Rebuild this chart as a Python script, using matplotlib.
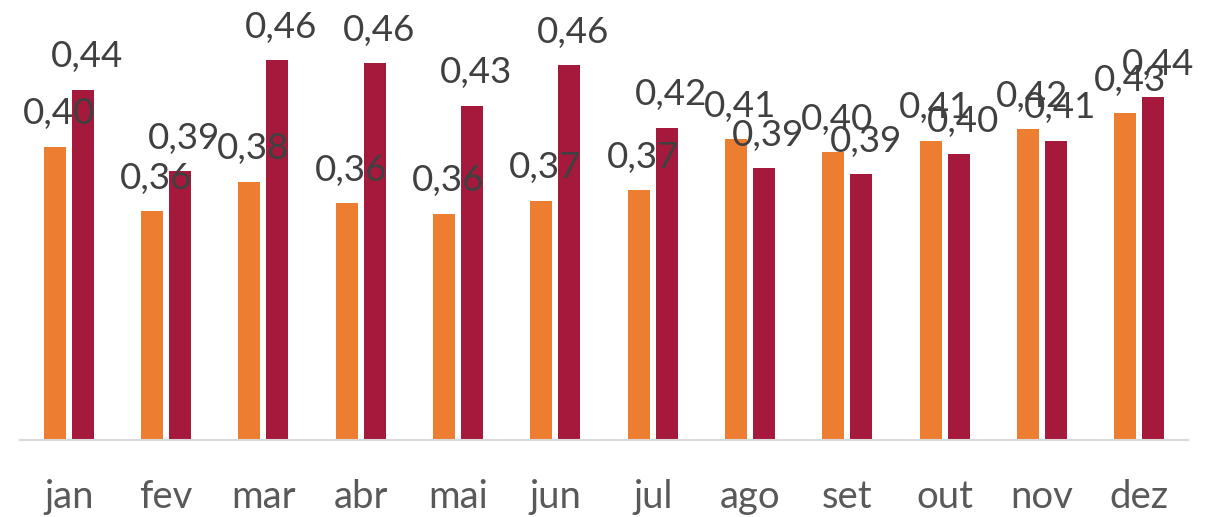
import matplotlib.pyplot as plt
import numpy as np

meses = ["jan", "fev", "mar", "abr", "mai", "jun", "jul", "ago", "set", "out", "nov", "dez"]
serie_a = [0.401, 0.357, 0.377, 0.362, 0.355, 0.364, 0.371, 0.406, 0.397, 0.405, 0.413, 0.424]
serie_b = [0.440, 0.384, 0.460, 0.458, 0.429, 0.457, 0.414, 0.386, 0.382, 0.396, 0.405, 0.435]
rotulos_a = ["0,40", "0,36", "0,38", "0,36", "0,36", "0,37", "0,37", "0,41", "0,40", "0,41", "0,42", "0,43"]
rotulos_b = ["0,44", "0,39", "0,46", "0,46", "0,43", "0,46", "0,42", "0,39", "0,39", "0,40", "0,41", "0,44"]

laranja = "#ED7D31"
vinho = "#A5193C"

plt.rcParams['font.family'] = ['Lato', 'DejaVu Sans']

fig = plt.figure(figsize=(12.2, 5.17), dpi=100)
ax = fig.add_axes([0.0164, 0.149, 0.9574, 0.851])

x = np.arange(len(meses))
w = 0.226
off = 0.144
b1 = ax.bar(x - off, serie_a, w, bottom=0, color=laranja)
b2 = ax.bar(x + off, serie_b, w, bottom=0, color=vinho)

for bars, rot in ((b1, rotulos_a), (b2, rotulos_b)):
    for b, r in zip(bars, rot):
        ax.annotate(r, (b.get_x() + b.get_width() / 2, b.get_height()),
                    xytext=(3, 16), textcoords="offset points",
                    ha="center", va="baseline", fontsize=26.5, color="#404040")

ax.set_xlim(-0.5, len(meses) - 0.5)
ax.set_ylim(0.2, 0.2 + 440 / 1460)
ax.set_xticks(x)
ax.set_xticklabels(meses, fontsize=27.5, color="#595959")
ax.tick_params(axis="x", length=0, pad=28)
ax.set_yticks([])
for s in ("top", "left", "right"):
    ax.spines[s].set_visible(False)
ax.spines["bottom"].set_color("#D9D9D9")
ax.spines["bottom"].set_linewidth(1.5)

fig.savefig("out.png", dpi=100)
